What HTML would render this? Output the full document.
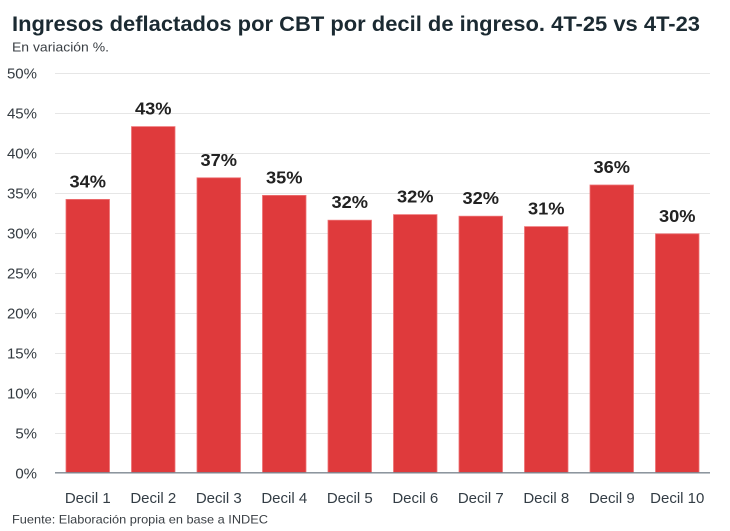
<!DOCTYPE html>
<html><head><meta charset="utf-8"><style>
html,body{margin:0;padding:0;background:#fff;}
svg{display:block;}
text{font-family:"Liberation Sans",sans-serif;}
</style></head><body>
<svg width="730" height="531" viewBox="0 0 730 531" xmlns="http://www.w3.org/2000/svg">
<rect width="730" height="531" fill="#fff"/>
<text x="12" y="31" font-size="21.5" font-weight="bold" fill="#1b2a32" textLength="688" lengthAdjust="spacingAndGlyphs">Ingresos deflactados por CBT por decil de ingreso. 4T-25 vs 4T-23</text>
<text x="12" y="51.5" font-size="13" fill="#3a3f44" textLength="97" lengthAdjust="spacingAndGlyphs">En variación %.</text>
<g stroke="#e6e6e6" stroke-width="1">
<line x1="55" x2="710" y1="73.5" y2="73.5"/>
<line x1="55" x2="710" y1="113.5" y2="113.5"/>
<line x1="55" x2="710" y1="153.5" y2="153.5"/>
<line x1="55" x2="710" y1="193.5" y2="193.5"/>
<line x1="55" x2="710" y1="233.5" y2="233.5"/>
<line x1="55" x2="710" y1="273.5" y2="273.5"/>
<line x1="55" x2="710" y1="313.5" y2="313.5"/>
<line x1="55" x2="710" y1="353.5" y2="353.5"/>
<line x1="55" x2="710" y1="393.5" y2="393.5"/>
<line x1="55" x2="710" y1="433.5" y2="433.5"/>
</g>
<g font-size="15" fill="#333a40" text-anchor="end">
<text x="37" y="78.5">50%</text>
<text x="37" y="118.5">45%</text>
<text x="37" y="158.5">40%</text>
<text x="37" y="198.5">35%</text>
<text x="37" y="238.5">30%</text>
<text x="37" y="278.5">25%</text>
<text x="37" y="318.5">20%</text>
<text x="37" y="358.5">15%</text>
<text x="37" y="398.5">10%</text>
<text x="37" y="438.5">5%</text>
<text x="37" y="478.5">0%</text>
</g>
<g fill="#df3a3c" stroke="#ee7375" stroke-width="0.8">
<rect x="66" y="199.4" width="43.5" height="273.6"/>
<rect x="131.5" y="126.6" width="43.5" height="346.4"/>
<rect x="197" y="177.8" width="43.5" height="295.2"/>
<rect x="262.5" y="195.4" width="43.5" height="277.6"/>
<rect x="328" y="220.2" width="43.5" height="252.8"/>
<rect x="393.5" y="214.6" width="43.5" height="258.4"/>
<rect x="459" y="216.2" width="43.5" height="256.8"/>
<rect x="524.5" y="226.6" width="43.5" height="246.4"/>
<rect x="590" y="185" width="43.5" height="288"/>
<rect x="655.5" y="233.8" width="43.5" height="239.2"/>
</g>
<line x1="55" x2="710" y1="472.8" y2="472.8" stroke="#7d8790" stroke-width="1.4"/>
<g font-size="17.5" font-weight="bold" fill="#222" text-anchor="middle">
<text x="87.75" y="187.4" textLength="36.5" lengthAdjust="spacingAndGlyphs">34%</text>
<text x="153.25" y="114.6" textLength="36.5" lengthAdjust="spacingAndGlyphs">43%</text>
<text x="218.75" y="165.8" textLength="36.5" lengthAdjust="spacingAndGlyphs">37%</text>
<text x="284.25" y="183.4" textLength="36.5" lengthAdjust="spacingAndGlyphs">35%</text>
<text x="349.75" y="208.2" textLength="36.5" lengthAdjust="spacingAndGlyphs">32%</text>
<text x="415.25" y="202.6" textLength="36.5" lengthAdjust="spacingAndGlyphs">32%</text>
<text x="480.75" y="204.2" textLength="36.5" lengthAdjust="spacingAndGlyphs">32%</text>
<text x="546.25" y="214.6" textLength="36.5" lengthAdjust="spacingAndGlyphs">31%</text>
<text x="611.75" y="173" textLength="36.5" lengthAdjust="spacingAndGlyphs">36%</text>
<text x="677.25" y="221.8" textLength="36.5" lengthAdjust="spacingAndGlyphs">30%</text>
</g>
<g font-size="15" fill="#333d45" text-anchor="middle">
<text x="87.75" y="503">Decil 1</text>
<text x="153.25" y="503">Decil 2</text>
<text x="218.75" y="503">Decil 3</text>
<text x="284.25" y="503">Decil 4</text>
<text x="349.75" y="503">Decil 5</text>
<text x="415.25" y="503">Decil 6</text>
<text x="480.75" y="503">Decil 7</text>
<text x="546.25" y="503">Decil 8</text>
<text x="611.75" y="503">Decil 9</text>
<text x="677.25" y="503">Decil 10</text>
</g>
<text x="12" y="523.5" font-size="12" fill="#3a3f44" textLength="256" lengthAdjust="spacingAndGlyphs">Fuente: Elaboración propia en base a INDEC</text>
</svg>
</body></html>
